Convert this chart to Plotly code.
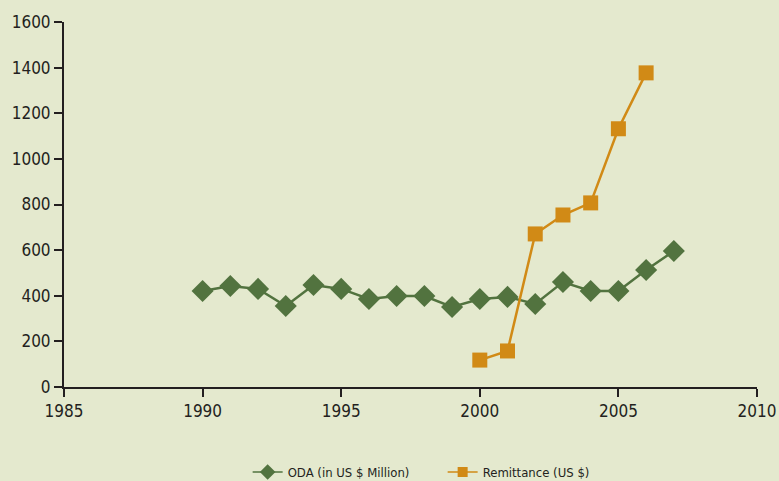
import plotly.graph_objects as go

years_oda = [1990, 1991, 1992, 1993, 1994, 1995, 1996, 1997, 1998, 1999,
             2000, 2001, 2002, 2003, 2004, 2005, 2006, 2007]
oda = [421, 443, 430, 355, 447, 430, 386, 399, 399, 351,
       386, 395, 364, 460, 421, 421, 513, 596]

years_rem = [2000, 2001, 2002, 2003, 2004, 2005, 2006]
remittance = [118, 158, 671, 754, 807, 1132, 1377]

x_ticks = [1985, 1990, 1995, 2000, 2005, 2010]
y_ticks = [0, 200, 400, 600, 800, 1000, 1200, 1400, 1600]

names = ["ODA (in US $ Million)", "Remittance (US $)"]

GREEN = "#52733f"
ORANGE = "#d18a16"
BG = "#e4e9ce"
FONT = "DejaVu Sans Condensed, DejaVu Sans, sans-serif"

fig = go.Figure()
fig.add_trace(go.Scatter(
    x=years_oda, y=oda, mode="lines+markers", name=names[0], showlegend=False,
    line=dict(color=GREEN, width=2.5),
    marker=dict(symbol="diamond", size=17, color=GREEN),
))
fig.add_trace(go.Scatter(
    x=years_rem, y=remittance, mode="lines+markers", name=names[1], showlegend=False,
    line=dict(color=ORANGE, width=2.5),
    marker=dict(symbol="square", size=15, color=ORANGE),
))
# legend entries with smaller symbols
fig.add_trace(go.Scatter(
    x=[None], y=[None], mode="lines+markers", name=names[0],
    line=dict(color=GREEN, width=1.5),
    marker=dict(symbol="diamond", size=12, color=GREEN),
))
fig.add_trace(go.Scatter(
    x=[None], y=[None], mode="lines+markers", name=names[1],
    line=dict(color=ORANGE, width=1.5),
    marker=dict(symbol="square", size=10, color=ORANGE),
))

fig.update_layout(
    width=779, height=481,
    paper_bgcolor=BG, plot_bgcolor=BG,
    margin=dict(l=64, r=22, t=22, b=94, autoexpand=False),
    font=dict(family=FONT, color="#231f20", size=17),
    showlegend=True,
    legend=dict(orientation="h", x=0.265, xanchor="left", y=-0.192, yanchor="top",
                font=dict(size=13), bgcolor="rgba(0,0,0,0)", entrywidth=150),
    xaxis=dict(range=[1985, 2010], tickvals=x_ticks, showgrid=False, zeroline=False,
               showline=True, linecolor="#231f20", linewidth=2,
               ticks="outside", ticklen=8, tickwidth=1.5, tickcolor="#231f20"),
    yaxis=dict(range=[0, 1600], tickvals=y_ticks, showgrid=False, zeroline=False,
               showline=True, linecolor="#231f20", linewidth=2,
               ticks="outside", ticklen=8, tickwidth=1.5, tickcolor="#231f20"),
)

post = (
    "document.body.style.margin='0';"
    "var s=document.createElement('style');"
    "s.textContent='.main-svg text{font-stretch:condensed !important;}';"
    "document.head.appendChild(s);"
)
fig.write_html("out.html", post_script=post, config={"displayModeBar": False})
